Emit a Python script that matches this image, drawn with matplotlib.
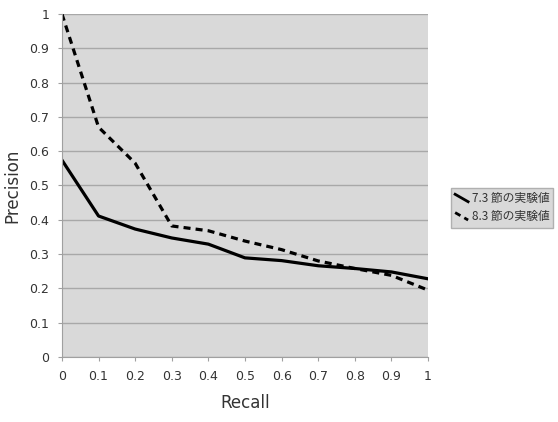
import matplotlib
matplotlib.use("Agg")
import matplotlib.pyplot as plt
from matplotlib.legend_handler import HandlerLine2D
from matplotlib.lines import Line2D

plt.rcParams['font.family'] = ['DejaVu Sans', 'Noto Sans CJK JP']

# recall points and precision of the two experiments
recall = [0, 0.1, 0.2, 0.3, 0.4, 0.5, 0.6, 0.7, 0.8, 0.9, 1.0]
prec_73 = [0.574, 0.411, 0.373, 0.347, 0.329, 0.289, 0.281, 0.266, 0.258, 0.248, 0.228]
prec_83 = [1.0, 0.67, 0.565, 0.382, 0.368, 0.338, 0.313, 0.28, 0.258, 0.238, 0.195]
labels = ["7.3 節の実験値", "8.3 節の実験値"]


# legend key drawn as a short diagonal stroke
class DiagHandler(HandlerLine2D):
    def create_artists(self, legend, orig, xdescent, ydescent, width, height, fontsize, trans):
        ln = Line2D([-xdescent, -xdescent + width], [height * 0.95, height * 0.05])
        self.update_prop(ln, orig, legend)
        ln.set_linewidth(2.0)
        ln.set_transform(trans)
        return [ln]


fig = plt.figure(figsize=(5.58, 4.22), dpi=100)
ax = fig.add_axes([0.111, 0.154, 0.656, 0.813])
ax.set_facecolor('#d9d9d9')

ax.plot(recall, prec_73, color='black', lw=2.3, label=labels[0])
ax.plot(recall, prec_83, color='black', lw=2.3, dashes=(2.2, 1.6), label=labels[1])

ax.set_xlim(0, 1)
ax.set_ylim(0, 1)
ax.set_xticks([i / 10 for i in range(11)])
ax.set_yticks([i / 10 for i in range(11)])
ax.set_xticklabels(["0"] + [f"{i/10:.1f}" for i in range(1, 10)] + ["1"])
ax.set_yticklabels(["0"] + [f"{i/10:.1f}" for i in range(1, 10)] + ["1"])
ax.yaxis.grid(True, color='#a8a8a8', lw=1)
ax.set_axisbelow(True)
for s in ['top', 'right']:
    ax.spines[s].set_visible(False)
for s in ['left', 'bottom']:
    ax.spines[s].set_color('#a0a0a0')
ax.tick_params(colors='#a0a0a0', labelcolor='#333333', labelsize=9, length=3, pad=6)

ax.set_xlabel("Recall", fontsize=12, color='#333333', labelpad=8)
ax.set_ylabel("Precision", fontsize=12, color='#333333', labelpad=6)

leg = fig.legend(handles=ax.get_lines(), labels=labels, loc='upper left',
                 bbox_to_anchor=(451 / 558, 1 - 188 / 422),
                 frameon=True, fancybox=False, handlelength=1.1, handletextpad=0.3,
                 borderpad=0.35, labelspacing=0.45, borderaxespad=0,
                 handler_map={Line2D: DiagHandler()},
                 prop={'family': ['Noto Sans CJK JP'], 'size': 8.5})
leg.get_frame().set_facecolor('#d9d9d9')
leg.get_frame().set_edgecolor('#b0b0b0')
leg.get_frame().set_alpha(1)
for t in leg.get_texts():
    t.set_color('#333333')

fig.savefig("out.png", dpi=100)
